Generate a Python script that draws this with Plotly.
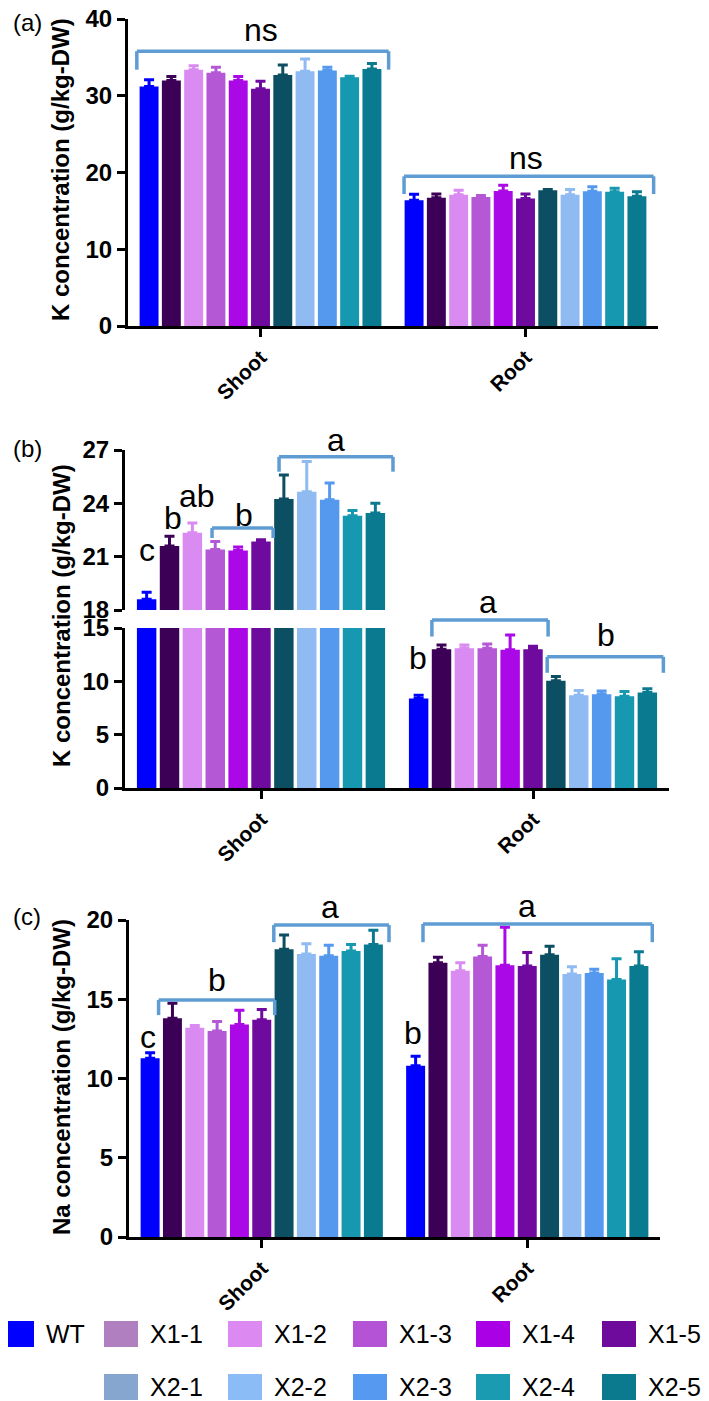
import plotly.graph_objects as go

# the page body adds an 8px margin, so the figure is sized to the remaining area
OFF = 8
W, H = 709 - OFF, 1401 - OFF
FONT = "Arial, Liberation Sans, sans-serif"

genotypes = ["WT", "X1-1", "X1-2", "X1-3", "X1-4", "X1-5",
             "X2-1", "X2-2", "X2-3", "X2-4", "X2-5"]
tissues = ["Shoot", "Root"]

bar_colors = ["#0000FF", "#3D0057", "#DA8BF2", "#B558D6", "#AB08E8", "#6F0A9E",
              "#0D4F62", "#8FBBF2", "#5599EE", "#1598B0", "#0A7A90"]
legend_colors = ["#0000FF", "#B07FC0", "#DC8AF2", "#B553D6", "#AA00E6", "#6E0A9C",
                 "#86A6D0", "#8CBCF5", "#559AF0", "#1A9BB2", "#0C7A8E"]

# (a) K concentration
k_shoot_a = [31.2, 32.0, 33.4, 33.0, 32.0, 30.9, 32.7, 33.2, 33.3, 32.4, 33.5]
k_shoot_a_err = [0.9, 0.5, 0.5, 0.7, 0.5, 1.0, 1.3, 1.6, 0.4, 0.15, 0.7]
k_root_a = [16.4, 16.7, 17.1, 16.8, 17.6, 16.6, 17.7, 17.1, 17.55, 17.5, 16.9]
k_root_a_err = [0.75, 0.5, 0.6, 0.2, 0.75, 0.6, 0.1, 0.7, 0.6, 0.45, 0.6]

# (b) K concentration
k_shoot_b = [18.6, 21.6, 22.35, 21.4, 21.35, 21.85, 24.25, 24.65, 24.2, 23.3, 23.45]
k_shoot_b_err = [0.4, 0.55, 0.55, 0.45, 0.2, 0.1, 1.35, 1.7, 0.95, 0.3, 0.55]
k_root_b = [8.4, 13.0, 13.1, 13.1, 12.95, 13.0, 10.05, 8.7, 8.8, 8.6, 8.95]
k_root_b_err = [0.3, 0.4, 0.3, 0.4, 1.4, 0.3, 0.4, 0.45, 0.3, 0.45, 0.35]

# (c) Na concentration
na_shoot_c = [11.27, 13.8, 13.2, 13.0, 13.4, 13.7, 18.15, 17.85, 17.75, 18.05, 18.45]
na_shoot_c_err = [0.35, 0.95, 0.15, 0.6, 0.9, 0.65, 0.9, 0.65, 0.65, 0.4, 0.9]
na_root_c = [10.8, 17.3, 16.8, 17.7, 17.15, 17.1, 17.8, 16.6, 16.65, 16.25, 17.1]
na_root_c_err = [0.6, 0.35, 0.5, 0.7, 2.4, 0.85, 0.55, 0.45, 0.25, 1.3, 0.9]

BARGAP = 0.075
N = len(genotypes)


def px_x(p):
    return (p - OFF) / W


def px_y(p):
    return 1 - (p - OFF) / H


def slot_x(cat, s):
    # boundary s (0..N) of the bar slots inside a category group
    w = 1 - BARGAP
    return cat - w / 2 + s * w / N


# (xaxis, yaxis, y range, shoot, shoot err, root, root err)
subplots = [
    ("x", "y", (0, 40), k_shoot_a, k_shoot_a_err, k_root_a, k_root_a_err),
    ("x2", "y2", (18, 27), k_shoot_b, k_shoot_b_err, k_root_b, k_root_b_err),
    ("x3", "y3", (0, 15), k_shoot_b, k_shoot_b_err, k_root_b, k_root_b_err),
    ("x4", "y4", (0, 20), na_shoot_c, na_shoot_c_err, na_root_c, na_root_c_err),
]
yranges = {s[1]: s[2] for s in subplots}

fig = go.Figure()
for xa, ya, _, sh, sh_e, rt, rt_e in subplots:
    for i, g in enumerate(genotypes):
        fig.add_trace(go.Bar(
            x=tissues, y=[sh[i], rt[i]], name=g,
            marker=dict(color=bar_colors[i], line=dict(width=0)),
            error_y=dict(type="data", array=[sh_e[i], rt_e[i]], arrayminus=[0, 0],
                         symmetric=False, color=bar_colors[i], thickness=3, width=5),
            xaxis=xa, yaxis=ya, showlegend=False,
        ))

tick_font = dict(family=FONT, size=24, color="black", weight="bold")
axis_common = dict(showline=True, linewidth=3, linecolor="black", ticks="outside",
                   ticklen=8, tickwidth=3, tickcolor="black", showgrid=False,
                   zeroline=False, tickfont=tick_font, fixedrange=True,
                   automargin=False, ticklabeloverflow="allow")
xcommon = dict(axis_common, type="category", categoryorder="array",
               categoryarray=tissues, tickangle=-45,
               tickfont=dict(family=FONT, size=21, color="black", weight="bold"))

fig.update_layout(
    width=W, height=H,
    margin=dict(l=0, r=0, t=0, b=0, pad=0),
    paper_bgcolor="white", plot_bgcolor="white",
    barmode="group", bargap=BARGAP, bargroupgap=0.15,
    showlegend=False,
    font=dict(family=FONT, color="black"),
    xaxis=dict(xcommon, domain=[px_x(128), px_x(658)], anchor="y"),
    yaxis=dict(axis_common, domain=[px_y(326), px_y(19)], range=[0, 40],
               dtick=10, anchor="x"),
    xaxis2=dict(xcommon, domain=[px_x(125), px_x(669)], anchor="y2",
                matches="x3", visible=False),
    yaxis2=dict(axis_common, domain=[px_y(610), px_y(450)], range=[18, 27],
                tickvals=[18, 21, 24, 27], anchor="x2"),
    xaxis3=dict(xcommon, domain=[px_x(125), px_x(669)], anchor="y3"),
    yaxis3=dict(axis_common, domain=[px_y(788), px_y(628)], range=[0, 15],
                tickvals=[0, 5, 10, 15], anchor="x3"),
    xaxis4=dict(xcommon, domain=[px_x(129), px_x(660)], anchor="y4"),
    yaxis4=dict(axis_common, domain=[px_y(1237), px_y(920)], range=[0, 20],
                dtick=5, anchor="x4"),
)

# significance brackets: (xaxis, yaxis, category, slot start, slot end, top, leg bottom)
brackets = [
    ("x", "y", 0, -0.05, 11.25, 35.8, 33.4),
    ("x", "y", 1, 0.05, 11.25, 19.5, 17.2),
    ("x2", "y2", 0, 6.29, 11.27, 26.62, 25.78),
    ("x2", "y2", 0, 3.36, 6.03, 22.61, 22.05),
    ("x3", "y3", 1, 1.08, 6.16, 15.75, 14.2),
    ("x3", "y3", 1, 6.12, 11.2, 12.3, 10.8),
    ("x4", "y4", 0, 0.88, 6.08, 14.95, 14.0),
    ("x4", "y4", 0, 6.04, 11.2, 19.68, 18.6),
    ("x4", "y4", 1, 0.83, 11.1, 19.75, 18.6),
]
# letters: (xaxis, yaxis, category, slot position, y, text)
letters = [
    ("x", "y", 0, 5.5, 38.6, "ns"),
    ("x", "y", 1, 5.5, 21.9, "ns"),
    ("x2", "y2", 0, 0.5, 21.4, "c"),
    ("x2", "y2", 0, 1.66, 23.2, "b"),
    ("x2", "y2", 0, 2.7, 24.4, "ab"),
    ("x2", "y2", 0, 4.76, 23.35, "b"),
    ("x2", "y2", 0, 8.8, 27.56, "a"),
    ("x3", "y3", 1, 0.47, 12.2, "b"),
    ("x3", "y3", 1, 3.53, 17.4, "a"),
    ("x3", "y3", 1, 8.67, 14.3, "b"),
    ("x4", "y4", 0, 0.4, 12.6, "c"),
    ("x4", "y4", 0, 3.48, 16.2, "b"),
    ("x4", "y4", 0, 8.55, 20.8, "a"),
    ("x4", "y4", 1, 0.39, 12.9, "b"),
    ("x4", "y4", 1, 5.5, 20.9, "a"),
]

BRACKET = "#5E9CD3"


def ydom(ya, v):
    lo, hi = yranges[ya]
    return (v - lo) / (hi - lo)


for xa, ya, cat, s0, s1, top, bot in brackets:
    x0, x1 = slot_x(cat, s0), slot_x(cat, s1)
    yt, yb = ydom(ya, top), ydom(ya, bot)
    for a, b, c, d in [(x0, yb, x0, yt), (x0, yt, x1, yt), (x1, yt, x1, yb)]:
        fig.add_shape(type="line", xref=xa, yref=ya + " domain",
                      x0=a, y0=b, x1=c, y1=d,
                      line=dict(color=BRACKET, width=3.5))

for xa, ya, cat, s, yv, txt in letters:
    fig.add_annotation(xref=xa, yref=ya + " domain", x=slot_x(cat, s),
                       y=ydom(ya, yv), text=txt, showarrow=False,
                       xanchor="center", yanchor="middle",
                       font=dict(family=FONT, size=32, color="black"))

# y-axis titles and panel labels
titles = [(170, "K concentration (g/kg-DW)"), (616, "K concentration (g/kg-DW)"),
          (1077, "Na concentration (g/kg-DW)")]
for yc, txt in titles:
    fig.add_annotation(xref="paper", yref="paper", x=px_x(61), y=px_y(yc),
                       text=txt, textangle=-90, showarrow=False,
                       xanchor="center", yanchor="middle",
                       font=dict(family=FONT, size=24, color="black", weight="bold"))

for yc, txt in [(23, "(a)"), (449, "(b)"), (916, "(c)")]:
    fig.add_annotation(xref="paper", yref="paper", x=px_x(27), y=px_y(yc),
                       text=txt, showarrow=False, xanchor="center", yanchor="middle",
                       font=dict(family=FONT, size=24, color="black"))

# legend drawn as swatches: two rows, second row starts at column 1
cols = [0, 104, 228, 353, 476, 602]
rows = [1334, 1387]
for i, g in enumerate(genotypes):
    if i < 6:
        cx, cy = cols[i], rows[0]
    else:
        cx, cy = cols[i - 5], rows[1]
    fig.add_shape(type="rect", xref="paper", yref="paper",
                  x0=px_x(cx), x1=px_x(cx + 34), y0=px_y(cy + 13), y1=px_y(cy - 13),
                  fillcolor=legend_colors[i], line=dict(width=0))
    fig.add_annotation(xref="paper", yref="paper", x=px_x(cx + 44), y=px_y(cy),
                       text=g, showarrow=False, xanchor="left", yanchor="middle",
                       font=dict(family=FONT, size=25, color="black"))

fig.write_html("out.html")
